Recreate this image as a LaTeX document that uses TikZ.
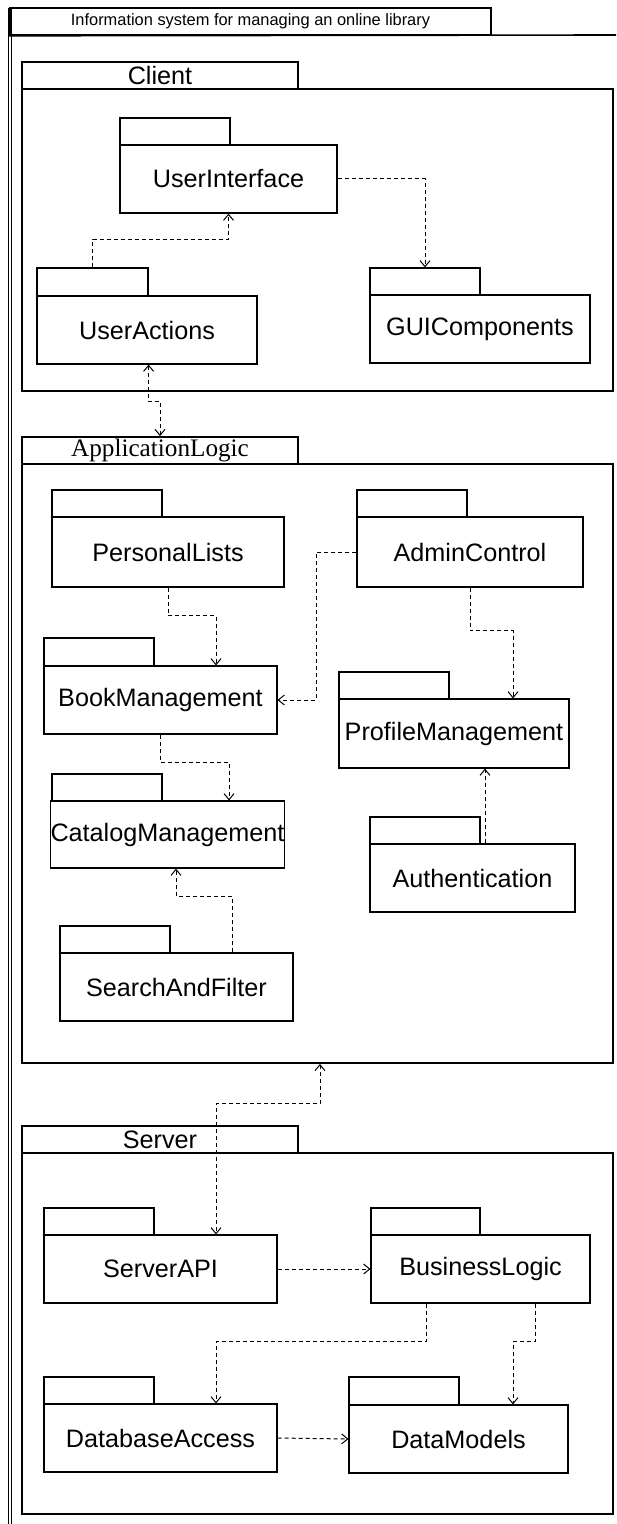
\documentclass[tikz,border=0pt]{standalone}
\usepackage{fontspec}
\setmainfont{Liberation Sans}
\newfontfamily\serifface{Liberation Serif}
\usetikzlibrary{arrows.meta}
\newcommand\pkg[8]{%
  \node[pkgline, inner sep=0pt, minimum width={(#4-#2)*0.5pt}, minimum height={(#5-#3)*0.5pt}] (#1-tab) at ({(#2+#4)/2},{(#3+#5)/2}) {};
  \node[pkgline, inner sep=0pt, lbl, minimum width={(#6-#2)*0.5pt}, minimum height={(#7-#5)*0.5pt}] (#1) at ({(#2+#6)/2},{(#5+#7)/2}) {#8};
}
\newcommand\toppkg[8]{%
  \node[toppkgline, inner sep=0pt, lbl, minimum width={(#4-#2)*0.5pt}, minimum height={(#5-#3)*0.5pt}] (#1-tab) at ({(#2+#4)/2},{(#3+#5)/2}) {#8};
  \node[toppkgline, inner sep=0pt, minimum width={(#6-#2)*0.5pt}, minimum height={(#7-#5)*0.5pt}] (#1) at ({(#2+#6)/2},{(#5+#7)/2}) {};
}
\begin{document}
\begin{tikzpicture}[x=0.5pt,y=-0.5pt,
  pkgline/.style={draw=black,line width=0.6pt},
  toppkgline/.style={draw=black,line width=0.9pt},
  lbl/.style={font=\fontsize{12.6}{14}\selectfont},
  tip/.tip={Straight Barb[length=3pt,width=5pt]},
  dep/.style={draw=black,line width=0.5pt,dash pattern=on 2pt off 1.5pt,-tip},
  dep2/.style={draw=black,line width=0.5pt,dash pattern=on 2pt off 1.5pt,tip-tip},
]
\useasboundingbox (0,0) rectangle (616,1524);
% outer frame
\coordinate (frameTL) at (10,8);
\coordinate (frameTR) at (616,35);
\coordinate (frameBL) at (10,1524);
\draw[black,line width=0.4pt,double,double distance=1pt] (frameTL) -- (frameBL);
\node[draw=black,line width=0.8pt,inner sep=0pt,minimum width={481*0.5pt},minimum height={27*0.5pt},font=\fontsize{8.2}{10}\selectfont] (title) at (250.5,21.5) {Information system for managing an online library};
\draw[black,line width=0.8pt] (frameTR) -- (title.south west);

% Client
\toppkg{client}{22}{62}{298}{89}{613}{391}{Client}
\pkg{ui}{120}{118}{230}{145}{337}{213}{UserInterface}
\pkg{ua}{37}{268}{148}{296}{257}{364}{UserActions}
\pkg{gui}{370}{268}{480}{295}{590}{363}{GUIComponents}

% ApplicationLogic
\toppkg{al}{22}{437}{298}{464}{613}{1063}{\serifface ApplicationLogic}
\pkg{pl}{52}{490}{162}{517}{284}{587}{PersonalLists}
\pkg{ac}{357}{490}{467}{517}{583}{587}{AdminControl}
\pkg{bm}{44}{638}{154}{666}{277}{734}{BookManagement}
\pkg{pm}{339}{672}{449}{699}{569}{768}{ProfileManagement}
\pkg{cm}{52}{774}{162}{801}{283}{868}{CatalogManagement}
\pkg{au}{370}{817}{480}{844}{575}{912}{Authentication}
\pkg{sf}{60}{926}{170}{953}{293}{1021}{SearchAndFilter}

% Server
\toppkg{sv}{22}{1126}{298}{1153}{613}{1514}{Server}
\pkg{api}{44}{1208}{154}{1235}{277}{1303}{ServerAPI}
\pkg{bl}{371}{1208}{480}{1235}{590}{1303}{BusinessLogic}
\pkg{dba}{44}{1377}{154}{1404}{277}{1472}{DatabaseAccess}
\pkg{dm}{349}{1377}{459}{1405}{568}{1473}{DataModels}

% connectors
\draw[dep] (ua-tab.north) -- ++(0,-28) -| (ui.south);
\draw[dep] (ui.east) -| (gui-tab.north);
\draw[dep2] (ua.south -| ua-tab.east) -- ++(0,37) -| (al-tab.north);
\draw[dep] (pl.south) -- ++(0,28) -| ([xshift=27.75pt]bm.north);
\draw[dep] (ac.west) -- ++(-40,0) |- (bm.east);
\draw[dep] (ac.south) -- ++(0,43) -| ([xshift=29.5pt]pm.north);
\draw[dep] (bm.south) -- ++(0,28) -| ([xshift=30.75pt]cm.north);
\draw[dep] ([xshift=27.75pt]sf.north) -- ++(0,-56) -| ([xshift=4.25pt]cm.south);
\draw[dep] ([xshift=6.25pt]au.north) -- ([xshift=6.25pt]au.north |- pm.south);
\draw[dep2] ([xshift=1.25pt]al.south) -- ++(0,40) -| ([xshift=27.75pt]api.north);
\draw[dep] (api.east) -- (bl.west);
\draw[dep] ([xshift=-27.25pt]bl.south) -- ++(0,38) -| ([xshift=27.75pt]dba.north);
\draw[dep] ([xshift=27.25pt]bl.south) -- ++(0,38) -| ([xshift=27.25pt]dm.north);
\draw[dep] (dba.east) -- (dm.west);
\end{tikzpicture}
\end{document}
